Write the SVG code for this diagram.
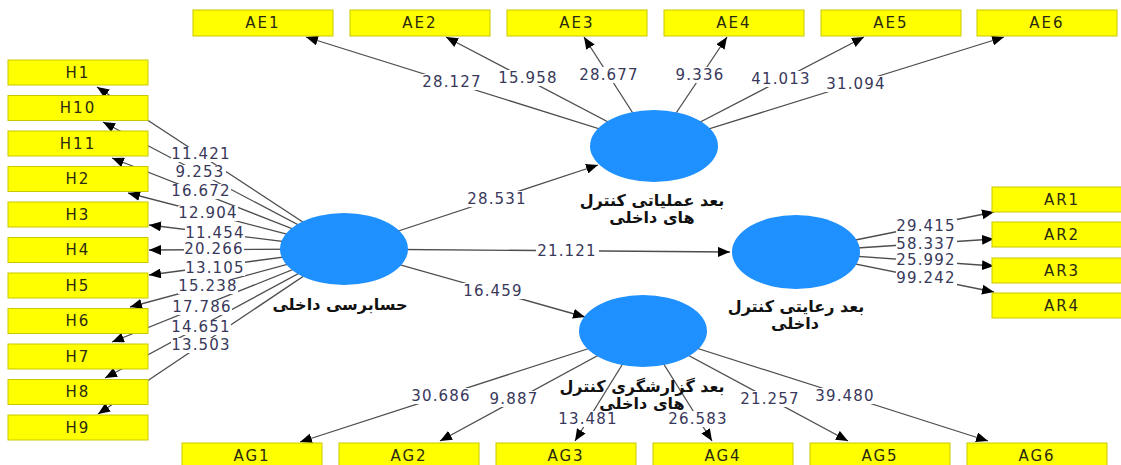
<svg xmlns="http://www.w3.org/2000/svg" width="1121" height="465" viewBox="0 0 1121 465">
<style>
.bg{fill:#ffffff}
.ln{stroke:#4d4d4d;stroke-width:1.3;fill:none;marker-end:url(#ah)}
.lb{fill:#ffffff}
.lt{font-family:"DejaVu Sans","Liberation Sans",sans-serif;font-size:15px;letter-spacing:1.2px;fill:#38385a;text-anchor:middle;dominant-baseline:central}
.box{fill:#ffff00;stroke:#c8c800;stroke-width:1}
.bt{font-family:"DejaVu Sans","Liberation Sans",sans-serif;font-size:15px;letter-spacing:2px;fill:#2a2a10;text-anchor:middle;dominant-baseline:central}
.lv{fill:#1e90ff}
.pt{font-family:"DejaVu Sans","Noto Sans",sans-serif;font-size:16px;font-weight:bold;fill:#111111;text-anchor:middle;dominant-baseline:central}
</style>
<defs>
<marker id="ah" viewBox="0 0 12 10" refX="12" refY="5" markerWidth="12" markerHeight="10" markerUnits="userSpaceOnUse" orient="auto">
<path d="M0,0 L12,5 L0,10 z" fill="#000000"/>
</marker>
</defs>
<rect class="bg" x="0" y="0" width="1121" height="465"/>
<g id="connectors">
<line class="ln" x1="344" y1="249" x2="97" y2="87"/>
<line class="ln" x1="344" y1="249" x2="103" y2="122"/>
<line class="ln" x1="344" y1="249" x2="112" y2="158"/>
<line class="ln" x1="344" y1="249" x2="128" y2="193"/>
<line class="ln" x1="344" y1="249" x2="149" y2="225"/>
<line class="ln" x1="344" y1="249" x2="149" y2="250"/>
<line class="ln" x1="344" y1="249" x2="149" y2="275"/>
<line class="ln" x1="344" y1="249" x2="130" y2="307"/>
<line class="ln" x1="344" y1="249" x2="112" y2="342"/>
<line class="ln" x1="344" y1="249" x2="105" y2="378"/>
<line class="ln" x1="344" y1="249" x2="98" y2="414"/>
<line class="ln" x1="654" y1="146" x2="306" y2="37"/>
<line class="ln" x1="654" y1="146" x2="446" y2="37"/>
<line class="ln" x1="654" y1="146" x2="584" y2="37"/>
<line class="ln" x1="654" y1="146" x2="727" y2="37"/>
<line class="ln" x1="654" y1="146" x2="864" y2="37"/>
<line class="ln" x1="654" y1="146" x2="1004" y2="37"/>
<line class="ln" x1="796" y1="252" x2="994" y2="212"/>
<line class="ln" x1="796" y1="252" x2="994" y2="239"/>
<line class="ln" x1="796" y1="252" x2="994" y2="266"/>
<line class="ln" x1="796" y1="252" x2="994" y2="292"/>
<line class="ln" x1="643" y1="331" x2="300" y2="442"/>
<line class="ln" x1="643" y1="331" x2="440" y2="441"/>
<line class="ln" x1="643" y1="331" x2="575" y2="441"/>
<line class="ln" x1="643" y1="331" x2="712" y2="441"/>
<line class="ln" x1="643" y1="331" x2="848" y2="441"/>
<line class="ln" x1="643" y1="331" x2="988" y2="441"/>
<line class="ln" x1="344" y1="249" x2="598" y2="165"/>
<line class="ln" x1="344" y1="249" x2="730" y2="252"/>
<line class="ln" x1="344" y1="249" x2="585" y2="317"/>
<g id="labels">
<rect class="lb" x="171" y="147" width="60" height="15"/><text class="lt" x="201" y="154">11.421</text>
<rect class="lb" x="175" y="165" width="51" height="15"/><text class="lt" x="200" y="172">9.253</text>
<rect class="lb" x="171" y="184" width="60" height="15"/><text class="lt" x="201" y="191">16.672</text>
<rect class="lb" x="178" y="206" width="60" height="15"/><text class="lt" x="208" y="213">12.904</text>
<rect class="lb" x="185" y="226" width="60" height="15"/><text class="lt" x="215" y="233">11.454</text>
<rect class="lb" x="184" y="242" width="60" height="15"/><text class="lt" x="214" y="249">20.266</text>
<rect class="lb" x="185" y="261" width="60" height="15"/><text class="lt" x="215" y="268">13.105</text>
<rect class="lb" x="178" y="279" width="60" height="15"/><text class="lt" x="208" y="286">15.238</text>
<rect class="lb" x="172" y="300" width="60" height="15"/><text class="lt" x="202" y="307">17.786</text>
<rect class="lb" x="171" y="320" width="60" height="15"/><text class="lt" x="201" y="327">14.651</text>
<rect class="lb" x="171" y="338" width="60" height="15"/><text class="lt" x="201" y="345">13.503</text>
<rect class="lb" x="421" y="74" width="62" height="16"/><text class="lt" x="452" y="82">28.127</text>
<rect class="lb" x="497" y="70" width="62" height="16"/><text class="lt" x="528" y="78">15.958</text>
<rect class="lb" x="578" y="67" width="62" height="16"/><text class="lt" x="609" y="75">28.677</text>
<rect class="lb" x="674" y="67" width="52" height="16"/><text class="lt" x="700" y="75">9.336</text>
<rect class="lb" x="750" y="71" width="62" height="16"/><text class="lt" x="781" y="79">41.013</text>
<rect class="lb" x="825" y="76" width="62" height="16"/><text class="lt" x="856" y="84">31.094</text>
<rect class="lb" x="466" y="191" width="62" height="16"/><text class="lt" x="497" y="199">28.531</text>
<rect class="lb" x="536" y="243" width="63" height="16"/><text class="lt" x="567" y="251">21.121</text>
<rect class="lb" x="462" y="283" width="62" height="16"/><text class="lt" x="493" y="291">16.459</text>
<rect class="lb" x="896" y="219" width="61" height="15"/><text class="lt" x="926" y="226">29.415</text>
<rect class="lb" x="896" y="237" width="61" height="15"/><text class="lt" x="926" y="244">58.337</text>
<rect class="lb" x="896" y="253" width="61" height="15"/><text class="lt" x="926" y="260">25.992</text>
<rect class="lb" x="896" y="271" width="61" height="15"/><text class="lt" x="926" y="278">99.242</text>
<rect class="lb" x="410" y="388" width="62" height="16"/><text class="lt" x="441" y="396">30.686</text>
<rect class="lb" x="488" y="391" width="52" height="16"/><text class="lt" x="514" y="399">9.887</text>
<rect class="lb" x="557" y="411" width="62" height="16"/><text class="lt" x="588" y="419">13.481</text>
<rect class="lb" x="667" y="411" width="62" height="16"/><text class="lt" x="698" y="419">26.583</text>
<rect class="lb" x="739" y="391" width="62" height="16"/><text class="lt" x="770" y="399">21.257</text>
<rect class="lb" x="814" y="388" width="62" height="16"/><text class="lt" x="845" y="396">39.480</text>
</g>
</g>
<g id="H1"><rect class="box" x="8" y="60" width="140" height="25"/><text class="bt" x="78" y="72.5">H1</text></g>
<g id="H10"><rect class="box" x="8" y="95.5" width="140" height="25"/><text class="bt" x="78" y="108">H10</text></g>
<g id="H11"><rect class="box" x="8" y="131" width="140" height="25"/><text class="bt" x="78" y="143.5">H11</text></g>
<g id="H2"><rect class="box" x="8" y="166.5" width="140" height="25"/><text class="bt" x="78" y="179">H2</text></g>
<g id="H3"><rect class="box" x="8" y="202" width="140" height="25"/><text class="bt" x="78" y="214.5">H3</text></g>
<g id="H4"><rect class="box" x="8" y="237.5" width="140" height="25"/><text class="bt" x="78" y="250">H4</text></g>
<g id="H5"><rect class="box" x="8" y="273" width="140" height="25"/><text class="bt" x="78" y="285.5">H5</text></g>
<g id="H6"><rect class="box" x="8" y="308.5" width="140" height="25"/><text class="bt" x="78" y="321">H6</text></g>
<g id="H7"><rect class="box" x="8" y="344" width="140" height="25"/><text class="bt" x="78" y="356.5">H7</text></g>
<g id="H8"><rect class="box" x="8" y="379.5" width="140" height="25"/><text class="bt" x="78" y="392">H8</text></g>
<g id="H9"><rect class="box" x="8" y="415" width="140" height="25"/><text class="bt" x="78" y="427.5">H9</text></g>
<g id="AE1"><rect class="box" x="193" y="10" width="140" height="26"/><text class="bt" x="263" y="23">AE1</text></g>
<g id="AE2"><rect class="box" x="350" y="10" width="140" height="26"/><text class="bt" x="420" y="23">AE2</text></g>
<g id="AE3"><rect class="box" x="507" y="10" width="140" height="26"/><text class="bt" x="577" y="23">AE3</text></g>
<g id="AE4"><rect class="box" x="664" y="10" width="140" height="26"/><text class="bt" x="734" y="23">AE4</text></g>
<g id="AE5"><rect class="box" x="821" y="10" width="140" height="26"/><text class="bt" x="891" y="23">AE5</text></g>
<g id="AE6"><rect class="box" x="977" y="10" width="140" height="26"/><text class="bt" x="1047" y="23">AE6</text></g>
<g id="AR1"><rect class="box" x="992" y="187" width="140" height="25"/><text class="bt" x="1062" y="199.5">AR1</text></g>
<g id="AR2"><rect class="box" x="992" y="222" width="140" height="25"/><text class="bt" x="1062" y="234.5">AR2</text></g>
<g id="AR3"><rect class="box" x="992" y="258" width="140" height="25"/><text class="bt" x="1062" y="270.5">AR3</text></g>
<g id="AR4"><rect class="box" x="992" y="293" width="140" height="25"/><text class="bt" x="1062" y="305.5">AR4</text></g>
<g id="AG1"><rect class="box" x="182" y="443" width="140" height="26"/><text class="bt" x="252" y="456">AG1</text></g>
<g id="AG2"><rect class="box" x="339" y="443" width="140" height="26"/><text class="bt" x="409" y="456">AG2</text></g>
<g id="AG3"><rect class="box" x="496" y="443" width="140" height="26"/><text class="bt" x="566" y="456">AG3</text></g>
<g id="AG4"><rect class="box" x="653" y="443" width="140" height="26"/><text class="bt" x="723" y="456">AG4</text></g>
<g id="AG5"><rect class="box" x="810" y="443" width="140" height="26"/><text class="bt" x="880" y="456">AG5</text></g>
<g id="AG6"><rect class="box" x="967" y="443" width="140" height="26"/><text class="bt" x="1037" y="456">AG6</text></g>
<g id="internal-audit"><ellipse class="lv" cx="344" cy="249" rx="64" ry="36"/><text class="pt" x="340" y="304">حسابرسی داخلی</text></g>
<g id="operational"><ellipse class="lv" cx="654" cy="146" rx="64" ry="36"/><text class="pt" x="652" y="200">بعد عملیاتی کنترل</text><text class="pt" x="652" y="217">های داخلی</text></g>
<g id="compliance"><ellipse class="lv" cx="796" cy="252" rx="64" ry="37"/><text class="pt" x="796" y="306">بعد رعایتی کنترل</text><text class="pt" x="795" y="323">داخلی</text></g>
<g id="reporting"><ellipse class="lv" cx="643" cy="331" rx="64" ry="36"/><text class="pt" x="642" y="386">بعد گزارشگری کنترل</text><text class="pt" x="642" y="403">های داخلی</text></g>
</svg>
